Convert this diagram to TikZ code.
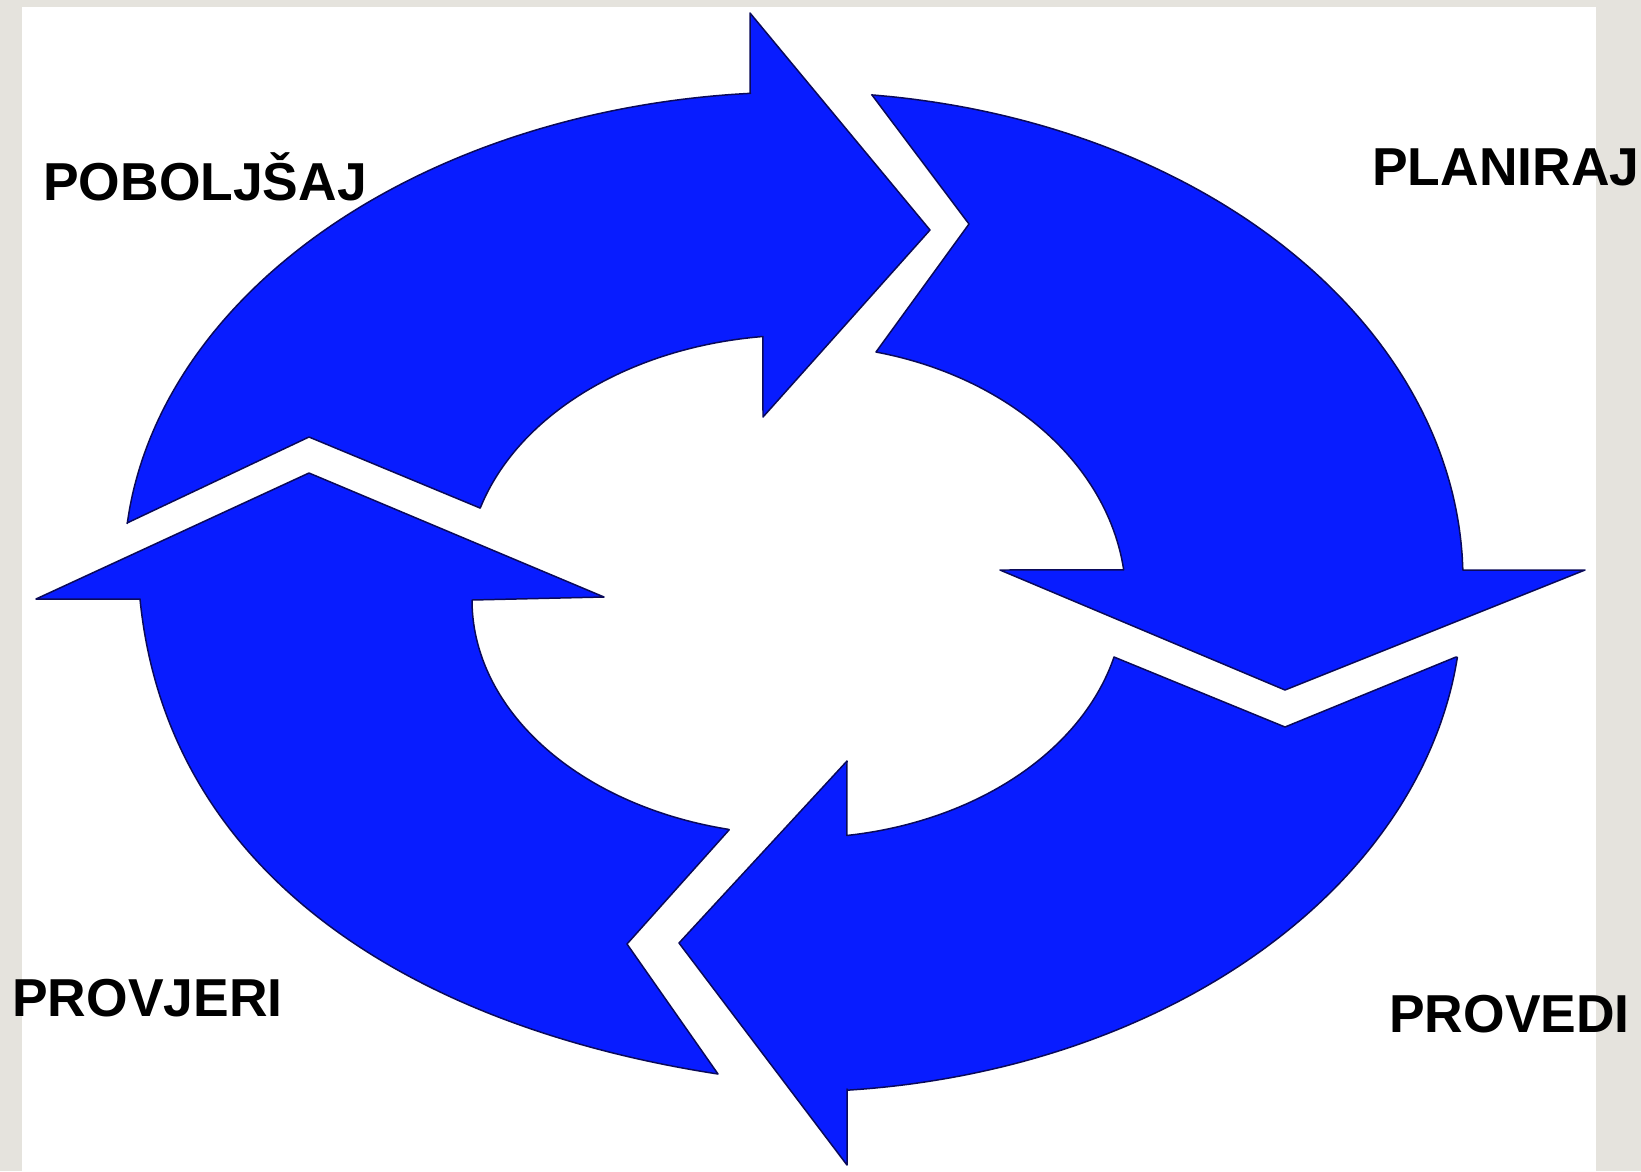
\documentclass[tikz,border=0pt]{standalone}
\usepackage{fontspec}
\setmainfont{Liberation Sans}
\usepackage{xcolor}
\usepackage{tikz}
\usetikzlibrary{positioning}

\definecolor{pageback}{RGB}{229,227,221}
\definecolor{cycleblue}{RGB}{8,28,255}
\definecolor{cycleline}{RGB}{10,10,90}

\begin{document}
\begin{tikzpicture}[x=0.02cm,y=-0.02cm,
    cyclearrow/.style={fill=cycleblue,draw=cycleline,line width=0.85pt,line join=round},
    ringarc/.style={smooth,samples=48,variable=\t},
    steplabel/.style={anchor=base west,inner sep=0pt,font=\bfseries\fontsize{30.4}{32}\selectfont}]
  \useasboundingbox (0,0) rectangle (1641,1171);
  \fill[pageback] (0,0) rectangle (1641,1171);
  \fill[white] (22,7) rectangle (1596,1171);

  % top arrow
  \filldraw[cyclearrow] (127,523) -- (309,437) -- (480,508)
    -- plot[ringarc,domain=196.2:263.6] ({800+333*cos(\t)},{575+240*sin(\t)})
    -- (763,417) -- (930,230) -- (750,13) -- (750,92)
    -- plot[ringarc,domain=265.8:185.6] ({800+676*cos(\t)},{570+478*sin(\t)})
    -- cycle;

  % right arrow
  \filldraw[cyclearrow] (872,95) -- (969,224) -- (876,352)
    -- plot[ringarc,domain=283.5:353.2] ({800+326*cos(\t)},{600+255*sin(\t)})
    -- (1000,570) -- (1285,690) -- (1585,570) -- (1463,570)
    -- plot[ringarc,domain=358.8:276.2] ({800+663*cos(\t)},{580+488*sin(\t)})
    -- cycle;

  % bottom arrow
  \filldraw[cyclearrow] (1456,657) -- (1285,727) -- (1114,657)
    -- plot[ringarc,domain=14.2:81.7] ({800+324*cos(\t)},{598+240*sin(\t)})
    -- (847,761) -- (679,943) -- (847,1165) -- (847,1089)
    -- plot[ringarc,domain=85.1:6.7] ({790+672*cos(\t)},{600+492*sin(\t)})
    -- cycle;

  % left arrow
  \filldraw[cyclearrow] (718,1074) -- (627,944) -- (729,830)
    -- plot[ringarc,domain=102.5:180] ({800+328*cos(\t)},{600+235*sin(\t)})
    -- (604,597) -- (309,473) -- (36,599) -- (140,599)
    .. controls (168,880) and (420,1028) .. (718,1074)
    -- cycle;

  \node[steplabel] (improve) at (43,200) {POBOLJŠAJ};
  \node[steplabel] (plan) at (1372,185) {PLANIRAJ};
  \node[steplabel] (check) at (12,1016) {PROVJERI};
  \node[steplabel] (do) at (1389,1032) {PROVEDI};
\end{tikzpicture}
\end{document}
